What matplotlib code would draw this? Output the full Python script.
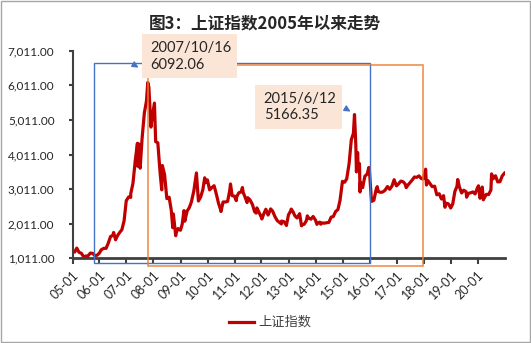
import matplotlib
matplotlib.use("Agg")
import matplotlib.pyplot as plt
import matplotlib.dates as mdates
from matplotlib.patches import Rectangle, FancyArrowPatch
from matplotlib.ticker import FuncFormatter
import pandas as pd

# Shanghai Composite, approximate closes
dates = [
    "2005-01-04", "2005-01-31", "2005-02-28", "2005-03-31", "2005-04-29", "2005-05-31", "2005-06-06",
    "2005-06-30", "2005-07-11", "2005-07-29", "2005-08-31", "2005-09-30", "2005-10-28", "2005-11-30", "2005-12-30",
    "2006-01-25", "2006-02-28", "2006-03-31", "2006-04-28", "2006-05-31", "2006-06-30", "2006-07-11",
    "2006-08-07", "2006-08-31", "2006-09-29", "2006-10-31", "2006-11-30", "2006-12-29",
    "2007-01-31", "2007-02-27", "2007-02-28", "2007-03-30", "2007-04-30", "2007-05-29", "2007-06-04",
    "2007-06-20", "2007-07-05", "2007-07-31", "2007-08-31", "2007-09-28", "2007-10-16", "2007-10-31",
    "2007-11-28", "2007-11-30", "2007-12-28",
    "2008-01-14", "2008-01-31", "2008-02-29", "2008-03-31", "2008-04-22", "2008-04-30", "2008-05-30",
    "2008-06-30", "2008-07-31", "2008-08-29", "2008-09-18", "2008-09-26", "2008-10-28", "2008-10-31",
    "2008-11-28", "2008-12-31",
    "2009-01-23", "2009-02-17", "2009-02-27", "2009-03-31", "2009-04-30", "2009-05-27", "2009-06-30",
    "2009-07-31", "2009-08-04", "2009-08-31", "2009-09-30", "2009-10-30", "2009-11-24", "2009-11-30", "2009-12-31",
    "2010-01-29", "2010-02-26", "2010-03-31", "2010-04-30", "2010-05-31", "2010-06-30", "2010-07-02",
    "2010-07-30", "2010-08-31", "2010-09-30", "2010-10-29", "2010-11-08", "2010-11-30", "2010-12-31",
    "2011-01-25", "2011-01-31", "2011-02-28", "2011-03-31", "2011-04-18", "2011-04-29", "2011-05-31",
    "2011-06-20", "2011-06-30", "2011-07-29", "2011-08-31", "2011-09-30", "2011-10-21", "2011-10-31",
    "2011-11-30", "2011-12-30",
    "2012-01-06", "2012-01-31", "2012-02-29", "2012-03-30", "2012-04-27", "2012-05-04", "2012-05-31",
    "2012-06-29", "2012-07-31", "2012-08-31", "2012-09-26", "2012-09-28", "2012-10-31", "2012-11-30",
    "2012-12-03", "2012-12-31",
    "2013-01-31", "2013-02-06", "2013-02-28", "2013-03-29", "2013-04-26", "2013-05-31", "2013-06-25",
    "2013-06-28", "2013-07-31", "2013-08-30", "2013-09-12", "2013-09-30", "2013-10-31", "2013-11-29", "2013-12-31",
    "2014-01-20", "2014-01-30", "2014-02-28", "2014-03-12", "2014-03-31", "2014-04-30", "2014-05-30",
    "2014-06-30", "2014-07-31", "2014-08-29", "2014-09-30", "2014-10-31", "2014-11-28", "2014-12-31",
    "2015-01-30", "2015-02-27", "2015-03-31", "2015-04-30", "2015-05-28", "2015-06-12", "2015-06-30",
    "2015-07-08", "2015-07-24", "2015-07-31", "2015-08-18", "2015-08-26", "2015-08-31", "2015-09-30",
    "2015-10-30", "2015-11-30", "2015-12-23", "2015-12-31",
    "2016-01-28", "2016-02-29", "2016-03-31", "2016-04-14", "2016-04-29", "2016-05-31", "2016-06-30",
    "2016-07-29", "2016-08-31", "2016-09-30", "2016-10-31", "2016-11-29", "2016-12-30",
    "2017-01-26", "2017-02-28", "2017-03-31", "2017-04-28", "2017-05-11", "2017-05-31", "2017-06-30",
    "2017-07-31", "2017-08-31", "2017-09-29", "2017-10-31", "2017-11-30", "2017-12-29",
    "2018-01-29", "2018-01-31", "2018-02-09", "2018-02-28", "2018-03-30", "2018-04-27", "2018-05-31",
    "2018-06-29", "2018-07-31", "2018-08-31", "2018-09-28", "2018-10-18", "2018-10-31", "2018-11-30", "2018-12-28",
    "2019-01-03", "2019-01-31", "2019-02-28", "2019-03-29", "2019-04-08", "2019-04-30", "2019-05-31",
    "2019-06-28", "2019-07-31", "2019-08-06", "2019-08-30", "2019-09-30", "2019-10-31", "2019-11-29", "2019-12-31",
    "2020-01-14", "2020-02-03", "2020-02-28", "2020-03-05", "2020-03-19", "2020-03-31", "2020-04-30",
    "2020-05-29", "2020-06-30", "2020-07-09", "2020-07-31", "2020-08-31", "2020-09-30", "2020-10-30",
    "2020-11-30", "2020-12-31",
]
closes = [
    1243, 1191, 1306, 1181, 1159, 1060, 998, 1080, 1011, 1083, 1162, 1155, 1092, 1099, 1161,
    1258, 1299, 1298, 1440, 1641, 1672, 1757, 1547, 1658, 1752, 1837, 2099, 2675,
    2786, 2771, 2881, 3183, 3841, 4335, 3670, 4312, 3615, 4471, 5218, 5552, 6092, 5954, 4803, 4871, 5262,
    5497, 4383, 4348, 3473, 2990, 3693, 3433, 2736, 2775, 2397, 1895, 2293, 1664, 1728, 1871, 1821,
    1990, 2390, 2082, 2373, 2477, 2632, 2959, 3412, 3478, 2667, 2779, 2996, 3338, 3195, 3277,
    2989, 3051, 3109, 2870, 2592, 2398, 2363, 2638, 2639, 2656, 2979, 3159, 2820, 2808,
    2677, 2790, 2905, 2928, 3057, 2911, 2743, 2621, 2762, 2701, 2568, 2359, 2317, 2468, 2333, 2199,
    2148, 2292, 2428, 2262, 2396, 2439, 2372, 2225, 2103, 2047, 2004, 2086, 2069, 1980, 1959, 2269,
    2385, 2434, 2365, 2236, 2177, 2300, 1950, 1979, 1994, 2098, 2237, 2175, 2141, 2220, 2116,
    1992, 2033, 2056, 1997, 2033, 2026, 2039, 2048, 2201, 2217, 2364, 2420, 2683, 3235,
    3210, 3310, 3748, 4441, 4620, 5166, 4277, 3507, 4070, 3664, 3748, 2927, 3206, 3053, 3383, 3445, 3636, 3539,
    2656, 2688, 3004, 3082, 2938, 2917, 2930, 2979, 3085, 3005, 3100, 3282, 3104,
    3159, 3242, 3223, 3155, 3053, 3117, 3192, 3273, 3361, 3349, 3393, 3317, 3307,
    3587, 3481, 3129, 3259, 3169, 3082, 3095, 2847, 2876, 2725, 2821, 2486, 2603, 2588, 2494,
    2464, 2585, 2941, 3091, 3288, 3078, 2899, 2979, 2933, 2777, 2886, 2905, 2929, 2871, 3050,
    3106, 2746, 2880, 3071, 2702, 2750, 2860, 2852, 2985, 3450, 3310, 3396, 3218, 3225, 3392, 3473,
]
y_ticks = [1011, 2011, 3011, 4011, 5011, 6011, 7011]
x_ticks = [f"{y}-01-01" for y in range(2005, 2021)]
series_name = "上证指数"
title = "图3：上证指数2005年以来走势"
peak_labels = ["2007/10/16\n6092.06", "2015/6/12\n5166.35"]

W, H = 531, 343
fig = plt.figure(figsize=(W / 100, H / 100), dpi=100)


def fx(x):
    return x / W


def fy(y):
    return 1 - y / H


ax = fig.add_axes([fx(72.5), fy(258.3), fx(504.6) - fx(72.5), fy(50.7) - fy(258.3)])
ax.plot(pd.to_datetime(dates), closes, color="#C00000", lw=2.3, solid_joinstyle="round")

ax.set_xlim(pd.Timestamp("2005-01-01"), pd.Timestamp("2021-01-01"))
ax.set_ylim(y_ticks[0], y_ticks[-1])
ax.set_yticks(y_ticks)
ax.yaxis.set_major_formatter(FuncFormatter(lambda v, p: f"{v:,.2f}"))
ax.set_xticks(pd.to_datetime(x_ticks))
ax.xaxis.set_major_formatter(mdates.DateFormatter("%y-%m"))

num_font = ["Lato", "Noto Sans CJK SC"]
for lab in ax.get_yticklabels():
    lab.set_family(num_font)
    lab.set_fontsize(8.5)
    lab.set_color("#262626")
for lab in ax.get_xticklabels():
    lab.set_family(num_font)
    lab.set_fontsize(9)
    lab.set_color("#262626")
    lab.set_rotation(45)
    lab.set_ha("right")
    lab.set_rotation_mode("anchor")

for s in ["top", "right"]:
    ax.spines[s].set_visible(False)
ax.spines["left"].set_color("#404040")
ax.spines["left"].set_linewidth(1.5)
ax.spines["bottom"].set_color("#404040")
ax.spines["bottom"].set_linewidth(2.0)
ax.tick_params(axis="y", length=3, width=1.5, color="#404040", pad=10)
ax.tick_params(axis="x", length=4, width=1.5, color="#404040", pad=4)

# highlight frames
fig.patches.append(Rectangle((fx(93.7), fy(262.8)), fx(369.8) - fx(93.7), fy(63) - fy(262.8),
                             transform=fig.transFigure, fill=False, ec="#4472C4", lw=1.0, zorder=5))
fig.patches.append(Rectangle((fx(147.7), fy(265.6)), fx(423.3) - fx(147.7), fy(64.5) - fy(265.6),
                             transform=fig.transFigure, fill=False, ec="#ED7D31", lw=1.2, alpha=0.85, zorder=5))

# callout boxes
for (x0, y0, x1, y1), txt in zip([(141.7, 34.3, 236.7, 78.3), (254.7, 84.7, 342, 128.5)], peak_labels):
    fig.patches.append(Rectangle((fx(x0), fy(y1)), fx(x1) - fx(x0), fy(y0) - fy(y1),
                                 transform=fig.transFigure, fc="#FBE5D6", ec="none", zorder=6))
    fig.text(fx(x0 + 9), fy((y0 + y1) / 2 + 0.5), txt, ha="left", va="center", fontsize=10.5,
             family=num_font, color="#262626", linespacing=1.25, zorder=7)

# small leader arrows
for (xa, ya), (xb, yb) in [((131, 63), (141, 69)), ((343, 107), (353, 113))]:
    fig.add_artist(FancyArrowPatch((fx(xa), fy(ya)), (fx(xb), fy(yb)), transform=fig.transFigure,
                                   arrowstyle="-|>", mutation_scale=9, color="#4472C4", lw=1.0, zorder=8))

fig.text(fx(265), fy(23.7), title, ha="center", va="center", fontsize=12, fontweight="bold",
         family=["Noto Sans CJK SC", "DejaVu Sans"], color="#262626")

# legend
fig.add_artist(plt.Line2D([fx(229), fx(254)], [fy(322), fy(322)], transform=fig.transFigure,
                          color="#C00000", lw=2.3))
fig.text(fx(258), fy(322), series_name, ha="left", va="center", fontsize=9.5,
         family=["Noto Sans CJK SC", "DejaVu Sans"], color="#404040")

# outer border
fig.patches.append(Rectangle((0.001, 0.002), 0.997, 0.995, transform=fig.transFigure,
                             fill=False, ec="#A6A6A6", lw=1.0))

fig.savefig("out.png", dpi=100)
